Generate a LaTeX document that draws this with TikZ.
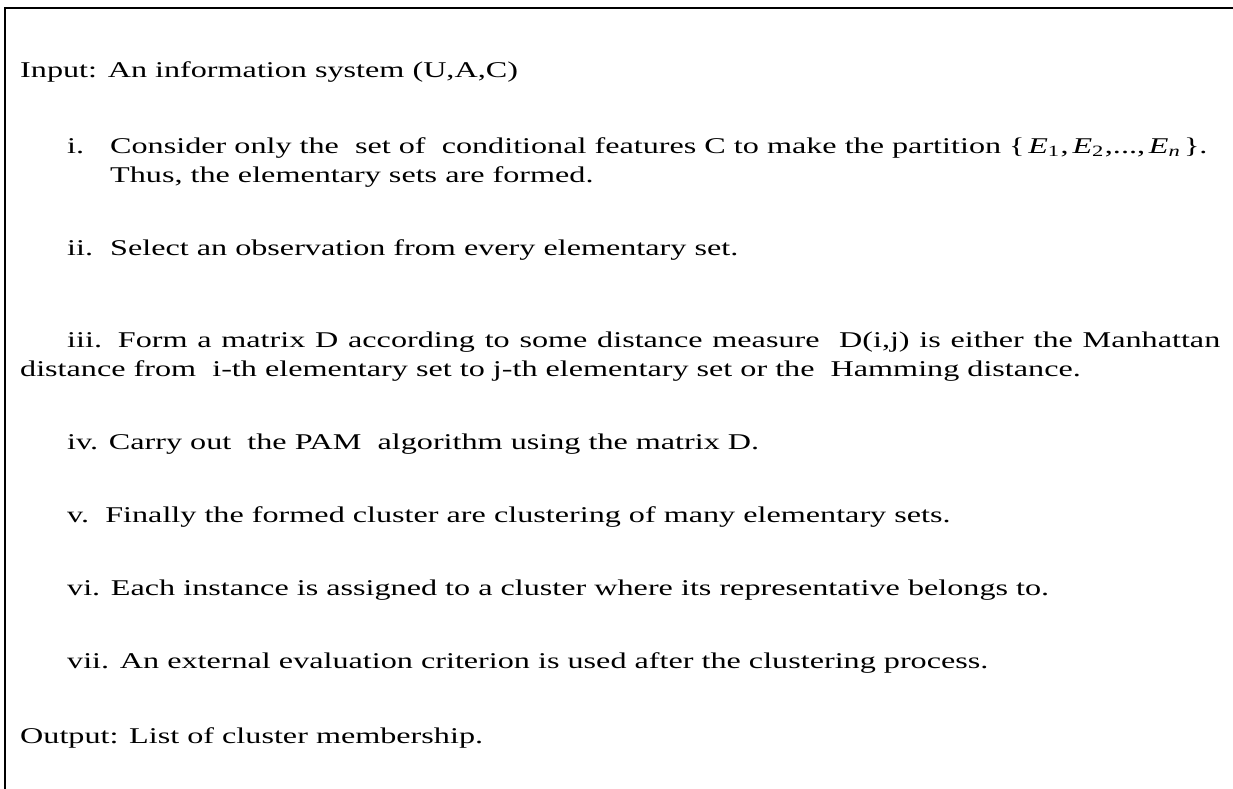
\documentclass[tikz,border=0pt]{standalone}
\usepackage{fontspec}
\setmainfont[FakeStretch=1.43]{Liberation Serif}
\begin{document}
\begin{tikzpicture}[x=1bp,y=-1bp,
  txt/.style={anchor=base west,inner sep=0pt,font=\fontsize{22.5bp}{29bp}\selectfont}]
\useasboundingbox (0,0) rectangle (1233,789);
\draw[line width=2bp] (5,789) -- (5,7.7) -- (1233,7.7);
\node[txt] (input) at (20,78) {Input: An information system (U,A,C)};
\node[txt] (l1) at (67,153) {i.};
\node[txt] (t1) at (110,153) {Consider only the\ \ set of\ \ conditional features C to make the partition \{\,\textit{E}\textsubscript{1}\kern1pt,\,\textit{E}\textsubscript{2}\kern1pt,...,\,\textit{E}\textsubscript{\textit{n}}\,\}.};
\node[txt] (t1b) at (110,182) {Thus, the elementary sets are formed.};
\node[txt] (l2) at (67,255) {ii.};
\node[txt] (t2) at (110,255) {Select an observation from every elementary set.};
\node[txt] (t3) at (67,347) {\hbox to 1153bp{iii. Form a matrix D according to some distance measure\ \ D(i,j) is either the Manhattan}};
\node[txt] (t3b) at (20,376) {distance from\ \ i-th elementary set to j-th elementary set or the\ \ Hamming distance.};
\node[txt] (t4) at (67,449) {iv. Carry out\ \ the PAM\ \ algorithm using the matrix D.};
\node[txt] (t5) at (67,522) {v.\ \ Finally the formed cluster are clustering of many elementary sets.};
\node[txt] (t6) at (67,595) {vi. Each instance is assigned to a cluster where its representative belongs to.};
\node[txt] (t7) at (67,668) {vii. An external evaluation criterion is used after the clustering process.};
\node[txt] (output) at (20,743) {Output: List of cluster membership.};
\end{tikzpicture}
\end{document}
